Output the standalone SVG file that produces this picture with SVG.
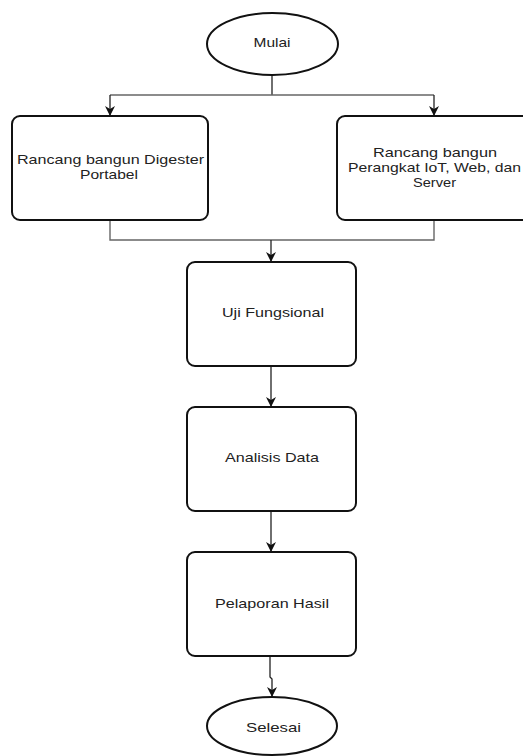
<svg xmlns="http://www.w3.org/2000/svg" width="523" height="756" viewBox="0 0 523 756">
<style>
.box{fill:#fff;stroke:#111;stroke-width:2}
.ln{fill:none;stroke:#222;stroke-width:1.3}
.hl{fill:none;stroke:#666;stroke-width:1.4}
.t{font-family:"Liberation Sans",Arial,sans-serif;font-size:13.5px;fill:#222;text-anchor:middle}
</style>
<defs>
<marker id="ah" viewBox="0 0 10 10" refX="10" refY="5" markerWidth="10" markerHeight="10" markerUnits="userSpaceOnUse" orient="auto">
<path d="M0,0 L10,5 L0,10 L3,5 z" fill="#111"/>
</marker>
</defs>
<rect width="523" height="756" fill="#fff"/>
<g id="connectors">
<path class="ln" d="M272,75 V95"/>
<path class="hl" d="M110,95 H434"/>
<path class="ln" d="M110,95 V116" marker-end="url(#ah)"/>
<path class="ln" d="M434,95 V116" marker-end="url(#ah)"/>
<path class="hl" d="M110,220 V240 H434 V220"/>
<path class="ln" d="M271,240 V262" marker-end="url(#ah)"/>
<path class="ln" d="M271,366 V407" marker-end="url(#ah)"/>
<path class="ln" d="M271,511 V552" marker-end="url(#ah)"/>
<path class="ln" d="M270,656 V677 L272,679 V697" marker-end="url(#ah)"/>
</g>
<g id="mulai">
<ellipse class="box" cx="272.5" cy="44" rx="65.5" ry="31"/>
<text class="t" x="272" y="47" textLength="37" lengthAdjust="spacingAndGlyphs">Mulai</text>
</g>
<g id="digester">
<rect class="box" x="12" y="116" width="196" height="104" rx="8"/>
<text class="t" x="110.5" y="164" textLength="187" lengthAdjust="spacingAndGlyphs">Rancang bangun Digester</text>
<text class="t" x="109" y="179" textLength="58" lengthAdjust="spacingAndGlyphs">Portabel</text>
</g>
<g id="iot">
<rect class="box" x="337" y="116" width="196" height="104" rx="8"/>
<text class="t" x="435" y="157" textLength="124" lengthAdjust="spacingAndGlyphs">Rancang bangun</text>
<text class="t" x="434.5" y="172" textLength="173" lengthAdjust="spacingAndGlyphs">Perangkat IoT, Web, dan</text>
<text class="t" x="434.5" y="187" textLength="43" lengthAdjust="spacingAndGlyphs">Server</text>
</g>
<g id="uji">
<rect class="box" x="187" y="262" width="169" height="104" rx="8"/>
<text class="t" x="273" y="317" textLength="102" lengthAdjust="spacingAndGlyphs">Uji Fungsional</text>
</g>
<g id="analisis">
<rect class="box" x="187" y="407" width="169" height="104" rx="8"/>
<text class="t" x="272" y="462" textLength="94" lengthAdjust="spacingAndGlyphs">Analisis Data</text>
</g>
<g id="pelaporan">
<rect class="box" x="187" y="552" width="169" height="104" rx="8"/>
<text class="t" x="272" y="608" textLength="114" lengthAdjust="spacingAndGlyphs">Pelaporan Hasil</text>
</g>
<g id="selesai">
<ellipse class="box" cx="272" cy="726" rx="65" ry="29"/>
<text class="t" x="273.5" y="732" textLength="55" lengthAdjust="spacingAndGlyphs">Selesai</text>
</g>
</svg>
